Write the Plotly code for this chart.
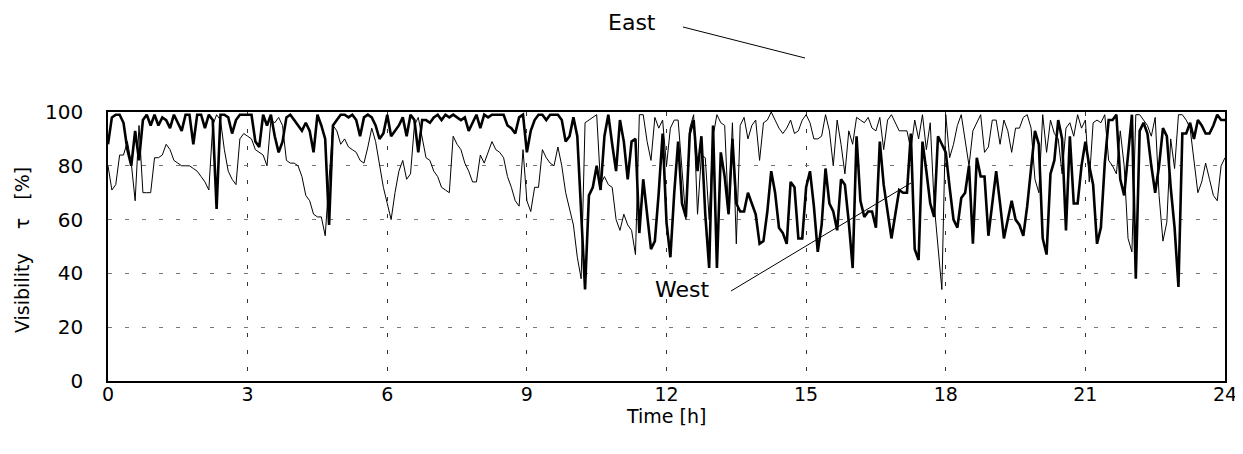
import plotly.graph_objects as go

# time in minutes (5-minute samples over one day)
minutes = list(range(0, 1445, 5))
hours = [m / 60 for m in minutes]

west = [
    88, 98, 99, 99, 96, 86, 80, 93, 82, 97, 99, 95,
    99, 95, 98, 97, 94, 99, 96, 93, 99, 99, 88, 99,
    99, 94, 99, 97, 64, 99, 99, 98, 92, 97, 99, 99,
    99, 99, 89, 87, 99, 95, 99, 91, 85, 89, 98, 99,
    97, 95, 93, 96, 93, 85, 99, 95, 90, 58, 95, 97,
    99, 99, 98, 99, 97, 91, 98, 99, 98, 95, 90, 92,
    99, 91, 93, 95, 98, 91, 99, 97, 85, 97, 97, 96,
    98, 99, 97, 99, 98, 99, 98, 97, 98, 93, 96, 99,
    94, 99, 98, 99, 99, 99, 99, 95, 94, 92, 98, 99,
    85, 93, 97, 99, 99, 97, 99, 99, 99, 97, 89, 91,
    98, 91, 60, 34, 69, 72, 80, 71, 91, 99, 88, 78,
    97, 89, 75, 89, 90, 55, 75, 62, 49, 52, 70, 92,
    59, 46, 70, 89, 66, 61, 92, 97, 78, 91, 62, 42,
    95, 42, 85, 76, 62, 90, 66, 63, 63, 70, 66, 62,
    51, 52, 63, 78, 70, 57, 55, 51, 74, 72, 53, 53,
    72, 78, 65, 48, 58, 79, 66, 63, 56, 75, 73, 59,
    42, 91, 67, 61, 63, 63, 57, 89, 73, 62, 53, 62,
    71, 70, 70, 92, 49, 45, 89, 78, 66, 61, 91, 88,
    85, 72, 60, 57, 68, 70, 80, 51, 83, 76, 76, 54,
    66, 78, 66, 53, 60, 67, 60, 58, 54, 65, 79, 93,
    88, 53, 47, 77, 82, 97, 90, 56, 91, 66, 66, 80,
    89, 80, 73, 51, 57, 81, 97, 97, 99, 75, 69, 85,
    99, 38, 93, 96, 92, 80, 70, 80, 94, 91, 72, 57,
    35, 92, 92, 96, 90, 97, 95, 92, 92, 95, 99, 97, 97,
]

east = [
    80, 71, 73, 84, 84, 89, 81, 67, 95, 70, 70, 70,
    83, 83, 84, 88, 86, 82, 81, 80, 80, 80, 79, 78,
    76, 74, 71, 95, 99, 97, 86, 78, 75, 73, 90, 92,
    91, 90, 86, 85, 84, 80, 97, 96, 98, 95, 82, 81,
    81, 80, 76, 69, 67, 62, 61, 61, 54, 75, 95, 93,
    88, 90, 87, 86, 85, 82, 81, 87, 94, 89, 80, 72,
    66, 60, 70, 78, 82, 75, 77, 95, 98, 91, 83, 82,
    78, 76, 72, 71, 70, 91, 88, 86, 81, 78, 74, 74,
    84, 81, 85, 89, 86, 85, 83, 76, 72, 67, 65, 86,
    67, 63, 72, 72, 86, 83, 81, 80, 87, 80, 70, 64,
    58, 46, 38, 96, 97, 98, 99, 73, 76, 73, 72, 60,
    56, 62, 58, 56, 47, 99, 99, 89, 82, 98, 94, 97,
    80, 94, 97, 97, 80, 60, 94, 99, 62, 84, 83, 60,
    91, 99, 96, 95, 62, 96, 51, 95, 98, 90, 95, 97,
    82, 96, 97, 100, 97, 94, 92, 94, 97, 92, 93, 97,
    99, 96, 90, 90, 91, 99, 93, 80, 97, 88, 77, 93,
    88, 98, 97, 96, 98, 94, 93, 98, 86, 97, 99, 96,
    93, 93, 93, 86, 97, 90, 99, 86, 96, 66, 51, 34,
    99, 83, 88, 95, 99, 90, 80, 93, 96, 99, 85, 87,
    97, 97, 88, 97, 93, 85, 94, 94, 98, 99, 94, 75,
    70, 99, 85, 97, 92, 90, 77, 94, 96, 91, 99, 94,
    97, 74, 96, 97, 96, 99, 82, 80, 77, 93, 80, 53,
    48, 99, 99, 97, 95, 91, 98, 69, 52, 59, 90, 79,
    99, 99, 97, 94, 83, 70, 74, 81, 75, 69, 67, 80, 83,
]

x_ticks = [0, 3, 6, 9, 12, 15, 18, 21, 24]
y_ticks = [0, 20, 40, 60, 80, 100]

FONT = "DejaVu Sans"
NB = "\u00a0"

fig = go.Figure()
fig.add_trace(go.Scatter(x=hours, y=east, mode="lines", name="East",
                         line=dict(color="black", width=1)))
fig.add_trace(go.Scatter(x=hours, y=west, mode="lines", name="West",
                         line=dict(color="black", width=2.6)))

# page has an 8px body margin; keep the figure inside the window (no scrollbars)
OFF = 8
L, R, T, B = 108, 1225, 112, 381
FW, FH = 1243 - OFF, 454 - 2 * OFF


def px(xp):
    return (xp - L) / (R - L)


def py(yp):
    return (B - yp) / (B - T)


fig.update_layout(
    width=FW, height=FH, autosize=False,
    margin=dict(l=L - OFF, r=FW - (R - OFF), t=T - OFF, b=FH - (B - OFF)),
    plot_bgcolor="white", paper_bgcolor="white",
    showlegend=False,
    font=dict(family=FONT, size=20, color="black"),
    xaxis=dict(range=[0, 24], tickvals=x_ticks, ticktext=[str(v) for v in x_ticks],
               automargin=False,
               showline=True, mirror=True, linecolor="black", linewidth=1.6,
               showgrid=True, gridcolor="#333333", griddash="4px,13px", gridwidth=1,
               zeroline=False, ticks="", ticklabelstandoff=-5,
               ticklabeloverflow="allow",
               tickfont=dict(size=19)),
    yaxis=dict(range=[0, 100], tickvals=y_ticks, ticktext=[str(v) for v in y_ticks],
               automargin=False,
               showline=True, mirror=True, linecolor="black", linewidth=1.6,
               showgrid=True, gridcolor="#777777", griddash="4px,13px", gridwidth=1,
               zeroline=False, ticks="", ticklabelstandoff=19,
               tickfont=dict(size=20)),
    annotations=[
        dict(text="Time [h]", xref="paper", yref="paper", x=px(666), y=py(416),
             showarrow=False, xanchor="center", yanchor="middle", font=dict(size=19)),
        dict(text="Visibility" + NB * 4 + "τ" + NB * 3 + "[%]", xref="paper", yref="paper",
             x=px(22), y=py(250),
             showarrow=False, xanchor="center", yanchor="middle", textangle=-90,
             font=dict(size=19)),
        dict(text="East", xref="paper", yref="paper", x=px(632), y=py(23),
             showarrow=False, xanchor="center", yanchor="middle", font=dict(size=22)),
        dict(text="West", xref="paper", yref="paper", x=px(682), y=py(289),
             showarrow=False, xanchor="center", yanchor="middle", font=dict(size=22)),
    ],
    shapes=[
        dict(type="line", xref="paper", yref="paper", x0=px(683), y0=py(27),
             x1=px(805), y1=py(58), line=dict(color="black", width=1)),
        dict(type="line", xref="paper", yref="paper", x0=px(731), y0=py(291),
             x1=px(911), y1=py(183), line=dict(color="black", width=1)),
    ],
)

fig.write_html("out.html")
